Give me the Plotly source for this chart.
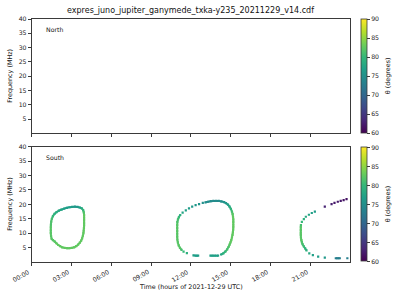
import plotly.graph_objects as go
from plotly.colors import sample_colorscale

# ---- data (South hemisphere emission) ----
# Loop 1 (~01:30-04:00)
loop1_hours = [1.50, 1.46, 1.44, 1.44, 1.44, 1.45, 1.47, 1.52, 1.60, 1.72, 1.87, 2.05, 2.25, 2.45, 2.65,
               2.85, 3.05, 3.25, 3.45, 3.62, 3.78, 3.88, 3.93, 3.95, 3.95, 3.95, 3.95, 3.95, 3.94, 3.92,
               3.90, 3.86, 3.80, 3.73, 3.63, 3.50, 3.36, 3.20, 3.02, 2.84, 2.66, 2.48, 2.30, 2.14, 2.00,
               1.86, 1.74, 1.60]
loop1_freq = [8.0, 9.0, 10.0, 11.0, 12.0, 13.0, 14.0, 15.0, 15.9, 16.7, 17.3, 17.8, 18.2, 18.5, 18.8,
              19.0, 19.1, 19.2, 19.1, 18.9, 18.6, 18.0, 17.2, 16.3, 15.4, 14.5, 13.6, 12.7, 11.8, 10.9,
              10.0, 9.1, 8.2, 7.4, 6.7, 6.0, 5.5, 5.1, 4.9, 4.8, 4.8, 4.9, 5.1, 5.5, 5.9,
              6.5, 7.1, 7.6]
loop1_theta = [82, 82, 82, 82, 82, 81.5, 81.5, 81, 80, 79, 78.5, 78, 77.5, 77, 76.5,
               76.5, 76.5, 76, 76, 77, 78.5, 80, 81.5, 82.5, 82.5, 82.5, 82.5, 82.5, 82.5, 82.5,
               82.5, 82.5, 82.5, 82.5, 82.5, 82.5, 82.5, 82.5, 82.5, 82.5, 82.5, 82.5, 82.5, 82.5, 82.5,
               82.5, 82, 82]

# Loop 2 (~11:00-15:10)
loop2_hours = [11.70, 11.45, 11.30, 11.18, 11.08, 11.02, 10.98, 10.97, 10.97, 10.97, 10.97, 10.97,
               10.98, 11.03, 11.10, 11.20,
               11.38, 11.62, 11.86, 12.10, 12.36, 12.62, 12.90,
               13.10, 13.30, 13.50, 13.70, 13.90, 14.10, 14.30, 14.50, 14.65,
               14.80, 14.92, 15.02, 15.10, 15.15, 15.18, 15.20, 15.20, 15.20, 15.20, 15.19, 15.17,
               15.14, 15.10, 15.05, 14.99, 14.92, 14.84, 14.74, 14.60, 14.45, 14.28,
               14.05, 13.85, 13.65, 13.48,
               12.55, 12.38, 12.20]
loop2_freq = [3.1, 3.6, 4.2, 4.9, 5.8, 6.8, 7.8, 8.8, 9.8, 10.8, 11.8, 12.8,
              13.8, 14.8, 15.6, 16.3,
              17.1, 17.9, 18.6, 19.2, 19.7, 20.1, 20.5,
              20.7, 20.9, 21.1, 21.2, 21.2, 21.2, 21.0, 20.8, 20.4,
              19.9, 19.2, 18.4, 17.5, 16.6, 15.7, 14.8, 13.9, 13.0, 12.1, 11.2, 10.3,
              9.4, 8.5, 7.6, 6.8, 6.0, 5.2, 4.4, 3.6, 3.0, 2.6,
              2.2, 2.2, 2.2, 2.2,
              2.2, 2.2, 2.3]
loop2_theta = [79, 80, 81, 82, 82, 82, 82, 82, 82, 82, 82, 82,
               81.5, 81, 80, 79,
               77.5, 77, 76.5, 76, 76, 75.5, 75,
               75, 74.5, 74.5, 74.5, 74.5, 74.5, 75, 75.5, 76,
               77, 78, 79.5, 81, 82, 82.5, 82.5, 82.5, 82.5, 82.5, 82.5, 82.5,
               82.5, 82.5, 82.5, 82.5, 82, 81.5, 81, 80, 79, 78,
               77, 77, 77, 77,
               76.5, 76.5, 77]

# Loop 3 (~20:15-24:00, open)
loop3_hours = [23.74, 23.52, 23.30, 23.08, 22.83, 22.61, 22.10,
               21.35, 21.12, 20.90, 20.67, 20.52, 20.37,
               20.30, 20.29, 20.29, 20.29, 20.29, 20.30, 20.33, 20.37, 20.42, 20.52, 20.62, 20.72,
               20.93, 21.20, 21.60, 22.10, 22.93, 23.08, 23.23, 23.80]
loop3_freq = [21.8, 21.5, 21.2, 20.9, 20.5, 20.1, 19.2,
              17.5, 17.0, 16.4, 15.7, 14.9, 13.9,
              12.8, 12.0, 11.1, 10.2, 9.4, 8.5, 7.6, 6.9, 6.2, 5.4, 4.7, 4.0,
              3.0, 2.4, 1.85, 1.5, 1.3, 1.3, 1.3, 1.3]
loop3_theta = [61.5, 61.5, 62, 62, 62, 62.5, 63,
               76.5, 77, 77.5, 78, 79, 80,
               81, 82, 82, 82, 82, 82, 82, 81.5, 81, 80.5, 79.5, 79,
               78, 77, 76.5, 76, 73, 73, 73, 73]

hour_ticks = [0, 3, 6, 9, 12, 15, 18, 21]
hour_labels = ["00:00", "03:00", "06:00", "09:00", "12:00", "15:00", "18:00", "21:00"]
freq_ticks = [5, 10, 15, 20, 25, 30, 35, 40]
theta_ticks = [60, 65, 70, 75, 80, 85, 90]

title_text = "expres_juno_jupiter_ganymede_txka-y235_20211229_v14.cdf"

# ---- style: index runs of each loop that appear as continuous strokes ----
solid_runs = {
    1: [(0, 47), (47, 0)],
    2: [(2, 15), (23, 53), (54, 57), (58, 60)],
    3: [(13, 24), (29, 31)],
}

FONT = "DejaVu Sans"
AX = "#3a3a3a"
CMIN, CMAX = 60, 90

loops = {
    1: (loop1_hours, loop1_freq, loop1_theta),
    2: (loop2_hours, loop2_freq, loop2_theta),
    3: (loop3_hours, loop3_freq, loop3_theta),
}


def viridis(t):
    return sample_colorscale("Viridis", [(t - CMIN) / (CMAX - CMIN)])[0]


fig = go.Figure()

# North panel: no emission, only the colour scale (placeholder without position)
fig.add_trace(go.Scatter(
    x=[None], y=[None], mode="markers", xaxis="x", yaxis="y",
    marker=dict(color=[75], coloraxis="coloraxis", symbol="square", size=2),
    showlegend=False, hoverinfo="skip"))

# continuous stroke parts
for k, (h, f, t) in loops.items():
    for a, b in solid_runs[k]:
        if b >= a:
            pairs = [(i, i + 1) for i in range(a, b)]
        else:
            pairs = [(a, b)]
        for i, j in pairs:
            fig.add_trace(go.Scatter(
                x=[h[i], h[j]], y=[f[i], f[j]], mode="lines", xaxis="x2", yaxis="y2",
                line=dict(color=viridis((t[i] + t[j]) / 2), width=2),
                showlegend=False, hoverinfo="skip"))

south_h = loop1_hours + loop2_hours + loop3_hours
south_f = loop1_freq + loop2_freq + loop3_freq
south_t = loop1_theta + loop2_theta + loop3_theta

fig.add_trace(go.Scatter(
    x=south_h, y=south_f, mode="markers", xaxis="x2", yaxis="y2",
    marker=dict(color=south_t, coloraxis="coloraxis2", symbol="square", size=2.2,
                line=dict(width=0)),
    showlegend=False))

xdom = [31.7 / 400, 350 / 400]
ytop = [1 - 133.3 / 300, 1 - 19 / 300]
ybot = [1 - 262 / 300, 1 - 146.7 / 300]

axis_common = dict(showline=True, mirror=True, linecolor=AX, linewidth=0.8,
                   ticks="outside", ticklen=3, tickwidth=0.8, tickcolor=AX,
                   showgrid=False, zeroline=False, automargin=False,
                   tickfont=dict(family=FONT, size=6.2, color="#222"))

cbar_common = dict(thickness=6, thicknessmode="pixels", len=(133.3 - 19) / 300, lenmode="fraction",
                   x=360.7 / 400, xanchor="left", xpad=0, ypad=0, yanchor="middle",
                   outlinecolor=AX, outlinewidth=0.8,
                   tickvals=theta_ticks, ticks="outside", ticklen=3, tickwidth=0.8, tickcolor=AX,
                   tickfont=dict(family=FONT, size=6.2, color="#222"))

annotations = [
    dict(text=title_text, x=190.8 / 400, y=1 - 10.5 / 300, xref="paper", yref="paper",
         showarrow=False, xanchor="center", yanchor="middle",
         font=dict(family=FONT, size=8, color="#111")),
    dict(text="North", x=0.04, y=0.907, xref="x domain", yref="y domain",
         showarrow=False, xanchor="left", yanchor="middle",
         font=dict(family=FONT, size=6.2, color="#111")),
    dict(text="South", x=0.04, y=0.907, xref="x2 domain", yref="y2 domain",
         showarrow=False, xanchor="left", yanchor="middle",
         font=dict(family=FONT, size=6.2, color="#111")),
    dict(text="Frequency (MHz)", x=10.5 / 400, y=(ytop[0] + ytop[1]) / 2, xref="paper", yref="paper",
         showarrow=False, textangle=-90, xanchor="center", yanchor="middle",
         font=dict(family=FONT, size=6.4, color="#111")),
    dict(text="Frequency (MHz)", x=10.5 / 400, y=(ybot[0] + ybot[1]) / 2, xref="paper", yref="paper",
         showarrow=False, textangle=-90, xanchor="center", yanchor="middle",
         font=dict(family=FONT, size=6.4, color="#111")),
    dict(text="θ (degrees)", x=388 / 400, y=(ytop[0] + ytop[1]) / 2, xref="paper", yref="paper",
         showarrow=False, textangle=-90, xanchor="center", yanchor="middle",
         font=dict(family=FONT, size=6.4, color="#111")),
    dict(text="θ (degrees)", x=388 / 400, y=(ybot[0] + ybot[1]) / 2, xref="paper", yref="paper",
         showarrow=False, textangle=-90, xanchor="center", yanchor="middle",
         font=dict(family=FONT, size=6.4, color="#111")),
    dict(text="Time (hours of 2021-12-29 UTC)", x=190.8 / 400, y=1 - 287 / 300, xref="paper", yref="paper",
         showarrow=False, xanchor="center", yanchor="middle",
         font=dict(family=FONT, size=6.4, color="#111")),
]

# rotated time tick labels, right end at the tick (matplotlib style)
for hv, lab in zip(hour_ticks, hour_labels):
    annotations.append(dict(
        text=lab, x=hv, y=0, xref="x2", yref="y2 domain", showarrow=False,
        textangle=-30, xanchor="right", yanchor="top", yshift=-5, xshift=0.5,
        borderpad=0, font=dict(family=FONT, size=6.2, color="#222")))

fig.update_layout(
    width=400, height=300,
    margin=dict(l=0, r=0, t=0, b=0, autoexpand=False),
    paper_bgcolor="white", plot_bgcolor="white",
    xaxis=dict(domain=xdom, anchor="y", range=[0, 24], tickvals=hour_ticks, showticklabels=False,
               **axis_common),
    yaxis=dict(domain=ytop, anchor="x", range=[0, 40], tickvals=freq_ticks, **axis_common),
    xaxis2=dict(domain=xdom, anchor="y2", range=[0, 24], tickvals=hour_ticks, showticklabels=False,
                **axis_common),
    yaxis2=dict(domain=ybot, anchor="x2", range=[0, 40], tickvals=freq_ticks, **axis_common),
    coloraxis=dict(colorscale="Viridis", cmin=CMIN, cmax=CMAX, showscale=True,
                   colorbar=dict(y=(ytop[0] + ytop[1]) / 2, **cbar_common)),
    coloraxis2=dict(colorscale="Viridis", cmin=CMIN, cmax=CMAX, showscale=True,
                    colorbar=dict(y=(ybot[0] + ybot[1]) / 2, **cbar_common)),
    annotations=annotations,
)

fig.write_html("out.html")
